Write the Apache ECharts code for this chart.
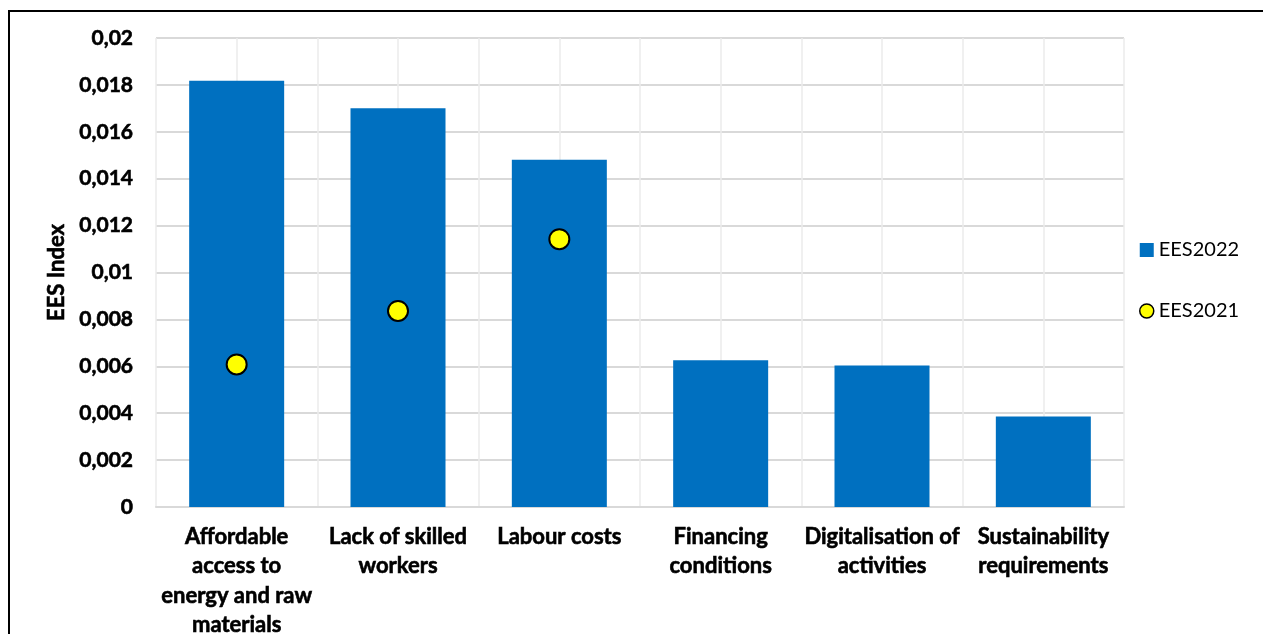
<!DOCTYPE html>
<html>
<head>
<meta charset="utf-8">
<script src="https://cdn.jsdelivr.net/npm/echarts@6/dist/echarts.min.js"></script>
<style>
  html, body { margin: 0; padding: 0; background: #ffffff; }
  #chart { width: 1263px; height: 634px; }
</style>
</head>
<body>
<div id="chart"></div>
<script>
// Obstacles ranked by EES index
const categories = [
  'Affordable\naccess to\nenergy and raw\nmaterials',
  'Lack of skilled\nworkers',
  'Labour costs',
  'Financing\nconditions',
  'Digitalisation of\nactivities',
  'Sustainability\nrequirements'
];
const ees2022 = [0.01818, 0.01700, 0.01481, 0.00626, 0.00603, 0.00386];
const ees2021 = [0.00608, 0.00836, 0.01142, null, null, null];
const yTicks = { min: 0, max: 0.02, interval: 0.002 };

const FONT = 'Lato, "Open Sans", sans-serif';
// slightly heavier bold strokes for axis text
const HEAVY = { textBorderColor: '#000000', textBorderWidth: 0.6 };

const chart = echarts.init(document.getElementById('chart'), null, { renderer: 'canvas' });

chart.setOption({
  animation: false,
  backgroundColor: '#ffffff',
  textStyle: { fontFamily: FONT },
  grid: { left: 156, right: 139, top: 38, bottom: 127, containLabel: false, outerBoundsMode: 'none' },
  legend: {
    orient: 'vertical',
    left: 1134,
    top: 235,
    itemGap: 41,
    itemWidth: 14,
    itemHeight: 14,
    textStyle: { fontFamily: FONT, fontSize: 20, color: '#000000' },
    data: [
      { name: 'EES2022', icon: 'rect', itemStyle: { color: '#0070c0' } },
      { name: 'EES2021', icon: 'circle', itemStyle: { color: '#ffff00', borderColor: '#000000', borderWidth: 1.5 } }
    ]
  },
  xAxis: [
    {
      type: 'category',
      data: categories,
      axisTick: { show: false },
      axisLine: { show: true, lineStyle: { color: '#d9d9d9', width: 2 } },
      axisLabel: Object.assign({
        interval: 0,
        margin: 15,
        color: '#000000',
        fontFamily: FONT,
        fontWeight: 'bold',
        fontSize: 22,
        lineHeight: 29.5
      }, HEAVY),
      splitLine: { show: false }
    },
    {
      // half-category vertical grid
      type: 'value',
      min: 0,
      max: 12,
      interval: 1,
      show: true,
      position: 'top',
      axisLine: { show: false },
      axisTick: { show: false },
      axisLabel: { show: false },
      splitLine: { show: true, lineStyle: { color: '#ebebeb', width: 1.5 } }
    }
  ],
  yAxis: {
    type: 'value',
    min: yTicks.min,
    max: yTicks.max,
    interval: yTicks.interval,
    name: 'EES Index',
    nameLocation: 'middle',
    nameGap: 88,
    nameRotate: 90,
    nameTextStyle: Object.assign({ fontFamily: FONT, fontWeight: 'bold', fontSize: 22, color: '#000000' }, HEAVY),
    axisLine: { show: false },
    axisTick: { show: false },
    axisLabel: Object.assign({
      margin: 23,
      color: '#000000',
      fontFamily: FONT,
      fontWeight: 'bold',
      fontSize: 21,
      formatter: function (v) {
        return String(parseFloat(v.toFixed(4))).replace('.', ',');
      }
    }, HEAVY),
    splitLine: { show: true, lineStyle: { color: '#d9d9d9', width: 2 } }
  },
  series: [
    {
      name: 'EES2022',
      type: 'bar',
      xAxisIndex: 0,
      data: ees2022,
      barWidth: 95,
      itemStyle: { color: '#0070c0' },
      z: 2
    },
    {
      name: 'EES2021',
      type: 'scatter',
      xAxisIndex: 0,
      data: ees2021,
      symbol: 'circle',
      symbolSize: 20,
      itemStyle: { color: '#ffff00', borderColor: '#000000', borderWidth: 2, opacity: 1 },
      z: 5
    }
  ],
  graphic: [
    {
      type: 'polyline',
      shape: { points: [[9, 634], [9, 11], [1263, 11]] },
      style: { stroke: '#000000', lineWidth: 2, fill: null },
      silent: true
    }
  ]
});
</script>
</body>
</html>
